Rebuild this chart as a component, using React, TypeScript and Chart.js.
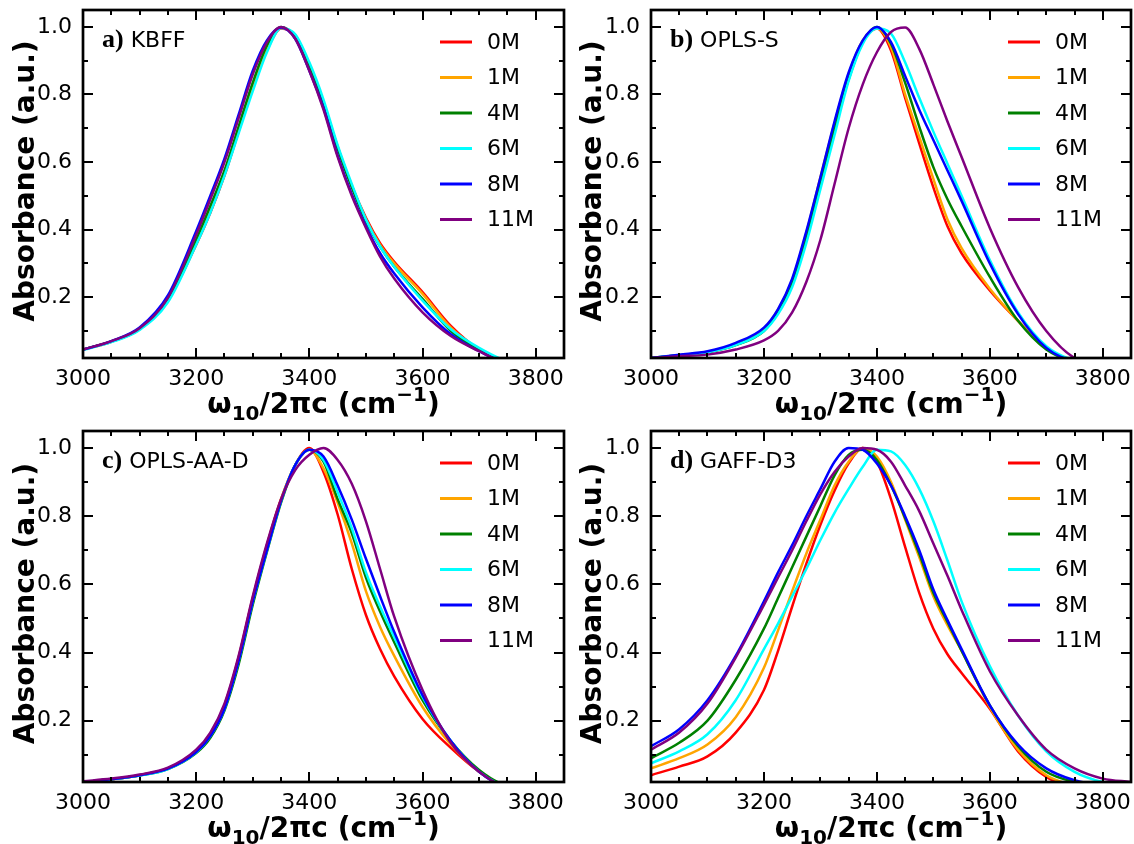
import React, { useEffect, useRef } from "react";
import { Chart, registerables } from "chart.js";

Chart.register(...registerables);

// ---------------- data ----------------
const WAVENUMBER = [3000, 3050, 3100, 3150, 3200, 3225, 3250, 3275, 3300, 3325, 3350, 3375, 3400, 3425, 3450, 3475, 3500, 3525, 3550, 3600, 3650, 3700, 3750, 3800, 3850];
const CONCENTRATIONS = ["0M", "1M", "4M", "6M", "8M", "11M"];
const COLORS = ["#ff0000", "#ffa500", "#008000", "#00ffff", "#0000ff", "#800080"];
const X_TICKS = [3000, 3200, 3400, 3600, 3800];
const Y_TICKS = [0.2, 0.4, 0.6, 0.8, 1.0];
const X_MIN = 3000;
const X_MAX = 3850;
const Y_MIN = 0.02;
const Y_MAX = 1.05;

// a) KBFF
const KBFF_0M = [0.045, 0.068, 0.105, 0.19, 0.355, 0.45, 0.56, 0.69, 0.82, 0.93, 0.995, 0.975, 0.885, 0.775, 0.645, 0.53, 0.435, 0.36, 0.305, 0.215, 0.115, 0.045, 0.005, 0, 0];
const KBFF_1M = [0.045, 0.068, 0.105, 0.19, 0.36, 0.455, 0.565, 0.695, 0.825, 0.935, 0.997, 0.975, 0.885, 0.775, 0.645, 0.53, 0.43, 0.355, 0.3, 0.21, 0.11, 0.045, 0.005, 0, 0];
const KBFF_4M = [0.045, 0.069, 0.107, 0.195, 0.37, 0.47, 0.575, 0.705, 0.835, 0.945, 1.0, 0.97, 0.88, 0.77, 0.64, 0.525, 0.425, 0.35, 0.29, 0.195, 0.1, 0.045, 0.005, 0, 0];
const KBFF_6M = [0.044, 0.067, 0.103, 0.185, 0.355, 0.45, 0.56, 0.685, 0.81, 0.925, 0.997, 0.978, 0.895, 0.785, 0.65, 0.535, 0.43, 0.35, 0.29, 0.19, 0.105, 0.05, 0.01, 0, 0];
const KBFF_8M = [0.045, 0.07, 0.11, 0.205, 0.395, 0.5, 0.61, 0.74, 0.87, 0.96, 0.998, 0.965, 0.87, 0.76, 0.62, 0.505, 0.41, 0.33, 0.27, 0.17, 0.09, 0.04, 0.005, 0, 0];
const KBFF_11M = [0.045, 0.07, 0.108, 0.198, 0.385, 0.49, 0.6, 0.73, 0.86, 0.955, 1.0, 0.965, 0.87, 0.755, 0.615, 0.5, 0.405, 0.32, 0.255, 0.155, 0.085, 0.04, 0.005, 0, 0];

// b) OPLS-S
const OPLSS_0M = [0.02, 0.028, 0.038, 0.06, 0.105, 0.16, 0.245, 0.385, 0.55, 0.71, 0.855, 0.955, 0.995, 0.93, 0.79, 0.655, 0.525, 0.41, 0.33, 0.22, 0.13, 0.05, 0.008, 0, 0];
const OPLSS_1M = [0.02, 0.028, 0.038, 0.062, 0.107, 0.163, 0.25, 0.39, 0.555, 0.715, 0.86, 0.96, 0.995, 0.94, 0.8, 0.675, 0.55, 0.43, 0.345, 0.225, 0.13, 0.05, 0.008, 0, 0];
const OPLSS_4M = [0.02, 0.028, 0.037, 0.058, 0.1, 0.155, 0.24, 0.375, 0.54, 0.7, 0.845, 0.955, 1.0, 0.95, 0.835, 0.705, 0.585, 0.49, 0.41, 0.26, 0.13, 0.045, 0.008, 0, 0];
const OPLSS_6M = [0.02, 0.028, 0.037, 0.058, 0.1, 0.15, 0.23, 0.36, 0.52, 0.68, 0.84, 0.95, 0.995, 0.98, 0.895, 0.79, 0.69, 0.595, 0.5, 0.31, 0.155, 0.055, 0.012, 0, 0];
const OPLSS_8M = [0.02, 0.03, 0.04, 0.065, 0.11, 0.165, 0.255, 0.395, 0.555, 0.72, 0.865, 0.96, 1.0, 0.955, 0.855, 0.755, 0.665, 0.575, 0.485, 0.3, 0.15, 0.05, 0.01, 0, 0];
const OPLSS_11M = [0.02, 0.025, 0.03, 0.045, 0.072, 0.1, 0.155, 0.245, 0.37, 0.535, 0.7, 0.83, 0.925, 0.985, 0.998, 0.935, 0.83, 0.72, 0.615, 0.405, 0.23, 0.1, 0.02, 0, 0];

// c) OPLS-AA-D
const OPLSAAD_0M = [0.02, 0.028, 0.04, 0.06, 0.11, 0.16, 0.245, 0.385, 0.56, 0.715, 0.85, 0.95, 1.0, 0.93, 0.805, 0.645, 0.51, 0.41, 0.33, 0.205, 0.12, 0.05, 0.005, 0, 0];
const OPLSAAD_1M = [0.02, 0.028, 0.04, 0.06, 0.11, 0.16, 0.245, 0.385, 0.56, 0.715, 0.85, 0.95, 0.995, 0.94, 0.84, 0.72, 0.58, 0.475, 0.39, 0.24, 0.13, 0.05, 0.005, 0, 0];
const OPLSAAD_4M = [0.02, 0.028, 0.039, 0.058, 0.105, 0.15, 0.23, 0.365, 0.54, 0.695, 0.84, 0.95, 0.995, 0.96, 0.85, 0.75, 0.62, 0.52, 0.43, 0.26, 0.14, 0.055, 0.008, 0, 0];
const OPLSAAD_6M = [0.02, 0.028, 0.039, 0.058, 0.107, 0.155, 0.235, 0.375, 0.55, 0.7, 0.845, 0.95, 0.995, 0.965, 0.87, 0.765, 0.635, 0.535, 0.445, 0.27, 0.14, 0.05, 0.006, 0, 0];
const OPLSAAD_8M = [0.02, 0.028, 0.04, 0.059, 0.108, 0.155, 0.235, 0.375, 0.55, 0.7, 0.845, 0.95, 0.995, 0.975, 0.89, 0.79, 0.675, 0.565, 0.46, 0.275, 0.14, 0.05, 0.005, 0, 0];
const OPLSAAD_11M = [0.022, 0.03, 0.042, 0.062, 0.115, 0.165, 0.25, 0.39, 0.565, 0.72, 0.85, 0.935, 0.98, 1.0, 0.965, 0.895, 0.785, 0.645, 0.505, 0.29, 0.135, 0.05, 0.005, 0, 0];

// d) GAFF-D3
const GAFF_0M = [0.04, 0.065, 0.095, 0.165, 0.29, 0.405, 0.535, 0.66, 0.775, 0.875, 0.955, 1.0, 0.96, 0.85, 0.71, 0.575, 0.47, 0.395, 0.34, 0.235, 0.11, 0.035, 0.005, 0, 0];
const GAFF_1M = [0.06, 0.09, 0.13, 0.21, 0.355, 0.465, 0.58, 0.69, 0.79, 0.89, 0.96, 1.0, 0.975, 0.9, 0.79, 0.68, 0.565, 0.48, 0.405, 0.24, 0.115, 0.04, 0.01, 0, 0];
const GAFF_4M = [0.09, 0.135, 0.2, 0.32, 0.47, 0.56, 0.65, 0.74, 0.83, 0.92, 0.98, 0.995, 0.965, 0.89, 0.795, 0.69, 0.575, 0.49, 0.405, 0.245, 0.125, 0.05, 0.02, 0.005, 0];
const GAFF_6M = [0.075, 0.11, 0.16, 0.26, 0.41, 0.485, 0.565, 0.645, 0.73, 0.81, 0.88, 0.945, 0.995, 0.99, 0.95, 0.88, 0.785, 0.67, 0.55, 0.36, 0.215, 0.11, 0.05, 0.02, 0.01];
const GAFF_8M = [0.125, 0.175, 0.26, 0.39, 0.55, 0.635, 0.715, 0.8, 0.88, 0.96, 1.0, 0.995, 0.955, 0.89, 0.8, 0.7, 0.585, 0.495, 0.41, 0.245, 0.13, 0.06, 0.025, 0.01, 0];
const GAFF_11M = [0.115, 0.165, 0.25, 0.385, 0.54, 0.62, 0.7, 0.785, 0.865, 0.93, 0.975, 1.0, 0.995, 0.96, 0.89, 0.815, 0.72, 0.625, 0.525, 0.345, 0.215, 0.115, 0.06, 0.03, 0.02];

// ---------------- drawing helpers ----------------
const SANS = "'DejaVu Sans', sans-serif";
const SERIF = "'Liberation Serif', 'Times New Roman', serif";

const decorPlugin = {
  id: "decor",
  afterDraw(chart: any) {
    const ctx: CanvasRenderingContext2D = chart.ctx;
    const { left, right, top, bottom } = chart.chartArea;
    const xs = chart.scales.x;
    const ys = chart.scales.y;
    const opts = chart.options.plugins.decor;
    ctx.save();
    ctx.strokeStyle = "#000";
    ctx.lineCap = "butt";

    // ticks (inward, all four sides)
    ctx.lineWidth = 2;
    const major = 10;
    const minor = 5;
    for (let v = X_MIN + 50; v < X_MAX; v += 50) {
      const px = Math.round(xs.getPixelForValue(v));
      const len = (v - 3000) % 200 === 0 ? major : minor;
      ctx.beginPath();
      ctx.moveTo(px, bottom);
      ctx.lineTo(px, bottom - len);
      ctx.moveTo(px, top);
      ctx.lineTo(px, top + len);
      ctx.stroke();
    }
    for (let k = 1; k <= 10; k++) {
      const v = k / 10;
      if (v <= Y_MIN || v >= Y_MAX) continue;
      const py = Math.round(ys.getPixelForValue(v));
      const len = k % 2 === 0 ? major : minor;
      ctx.beginPath();
      ctx.moveTo(left, py);
      ctx.lineTo(left + len, py);
      ctx.moveTo(right, py);
      ctx.lineTo(right - len, py);
      ctx.stroke();
    }

    // frame
    ctx.lineWidth = 2.7;
    ctx.strokeRect(left, top, right - left, bottom - top);

    ctx.fillStyle = "#000";
    // y title
    ctx.save();
    ctx.translate(27, (top + bottom) / 2 - 3);
    ctx.rotate(-Math.PI / 2);
    ctx.font = `bold 28px ${SANS}`;
    ctx.textAlign = "center";
    ctx.textBaseline = "middle";
    ctx.fillText("Absorbance (a.u.)", 0, 0);
    ctx.restore();

    // x title with sub/superscript
    const big = `bold 28px ${SANS}`;
    const small = `bold 20px ${SANS}`;
    const pieces: [string, string, number][] = [
      ["ω", big, 0],
      ["10", small, 7],
      ["/2πc (cm", big, 0],
      ["−1", small, -12],
      [")", big, 0],
    ];
    let total = 0;
    for (const [t, f] of pieces) {
      ctx.font = f;
      total += ctx.measureText(t).width;
    }
    let cx = (left + right) / 2 - total / 2;
    const base = bottom + 55;
    ctx.textAlign = "left";
    ctx.textBaseline = "alphabetic";
    for (const [t, f, dy] of pieces) {
      ctx.font = f;
      ctx.fillText(t, cx, base + dy);
      cx += ctx.measureText(t).width;
    }

    // panel label
    ctx.font = `bold 26px ${SERIF}`;
    ctx.fillText(opts.letter, left + 19, top + 37);
    const lw = ctx.measureText(opts.letter).width;
    ctx.font = `22px ${SANS}`;
    ctx.fillText(opts.name, left + 19 + lw + 7, top + 37);

    // legend
    ctx.textBaseline = "middle";
    ctx.font = `22px ${SANS}`;
    CONCENTRATIONS.forEach((lab, i) => {
      const y = top + 32 + i * 35.5;
      ctx.strokeStyle = COLORS[i];
      ctx.lineWidth = 3;
      ctx.beginPath();
      ctx.moveTo(left + 357, y);
      ctx.lineTo(left + 389, y);
      ctx.stroke();
      ctx.fillStyle = "#000";
      ctx.fillText(lab, left + 404, y + 1);
    });
    ctx.restore();
  },
};

type PanelProps = {
  letter: string;
  name: string;
  series: number[][];
  posLeft: number;
  posTop: number;
  plotLeft: number;
  plotTop: number;
  plotBottom: number;
};

const CW = 567;
const CH = 422;

function Panel({ letter, name, series, posLeft, posTop, plotLeft, plotTop, plotBottom }: PanelProps) {
  const ref = useRef<HTMLCanvasElement>(null);
  useEffect(() => {
    const canvas = ref.current!;
    const chart = new Chart(canvas, {
      type: "line",
      data: {
        datasets: series.map((vals, i) => ({
          label: CONCENTRATIONS[i],
          data: vals.map((y, j) => ({ x: WAVENUMBER[j], y })),
          borderColor: COLORS[i],
          backgroundColor: COLORS[i],
          borderWidth: 2.5,
          pointRadius: 0,
          fill: false,
          cubicInterpolationMode: "monotone",
          order: series.length - i,
        })),
      },
      options: {
        responsive: false,
        animation: false,
        devicePixelRatio: 1,
        layout: { padding: { top: plotTop, right: 3, left: 0, bottom: 0 } },
        plugins: {
          legend: { display: false },
          tooltip: { enabled: false },
          decor: { letter, name },
        } as any,
        scales: {
          x: {
            type: "linear",
            min: X_MIN,
            max: X_MAX,
            grid: { display: false },
            border: { display: false },
            afterBuildTicks: (s: any) => {
              s.ticks = X_TICKS.map((v) => ({ value: v }));
            },
            afterFit: (s: any) => {
              s.height = CH - plotBottom;
              s.paddingLeft = 0;
              s.paddingRight = 0;
            },
            ticks: {
              font: { family: "DejaVu Sans", size: 22 },
              color: "#000",
              padding: 0,
              maxRotation: 0,
              autoSkip: false,
              callback: (v: any) => String(v),
            },
          },
          y: {
            type: "linear",
            min: Y_MIN,
            max: Y_MAX,
            grid: { display: false },
            border: { display: false },
            afterBuildTicks: (s: any) => {
              s.ticks = Y_TICKS.map((v) => ({ value: v }));
            },
            afterFit: (s: any) => {
              s.width = plotLeft;
              s.paddingTop = 0;
              s.paddingBottom = 0;
            },
            ticks: {
              font: { family: "DejaVu Sans", size: 22 },
              color: "#000",
              padding: 3,
              autoSkip: false,
              callback: (v: any) => Number(v).toFixed(1),
            },
          },
        },
      } as any,
      plugins: [decorPlugin],
    });
    return () => chart.destroy();
  }, []);
  return (
    <canvas
      ref={ref}
      width={CW}
      height={CH}
      style={{ position: "absolute", left: posLeft, top: posTop, width: CW, height: CH }}
    />
  );
}

export default function App() {
  return (
    <div style={{ position: "absolute", left: 0, top: 0, width: 1134, height: 844, background: "#fff", overflow: "hidden" }}>
      <Panel letter="a)" name="KBFF" series={[KBFF_0M, KBFF_1M, KBFF_4M, KBFF_6M, KBFF_8M, KBFF_11M]} posLeft={0} posTop={0} plotLeft={83} plotTop={10} plotBottom={358} />
      <Panel letter="b)" name="OPLS-S" series={[OPLSS_0M, OPLSS_1M, OPLSS_4M, OPLSS_6M, OPLSS_8M, OPLSS_11M]} posLeft={567} posTop={0} plotLeft={84} plotTop={10} plotBottom={358} />
      <Panel letter="c)" name="OPLS-AA-D" series={[OPLSAAD_0M, OPLSAAD_1M, OPLSAAD_4M, OPLSAAD_6M, OPLSAAD_8M, OPLSAAD_11M]} posLeft={0} posTop={422} plotLeft={83} plotTop={9} plotBottom={360} />
      <Panel letter="d)" name="GAFF-D3" series={[GAFF_0M, GAFF_1M, GAFF_4M, GAFF_6M, GAFF_8M, GAFF_11M]} posLeft={567} posTop={422} plotLeft={84} plotTop={9} plotBottom={360} />
    </div>
  );
}
